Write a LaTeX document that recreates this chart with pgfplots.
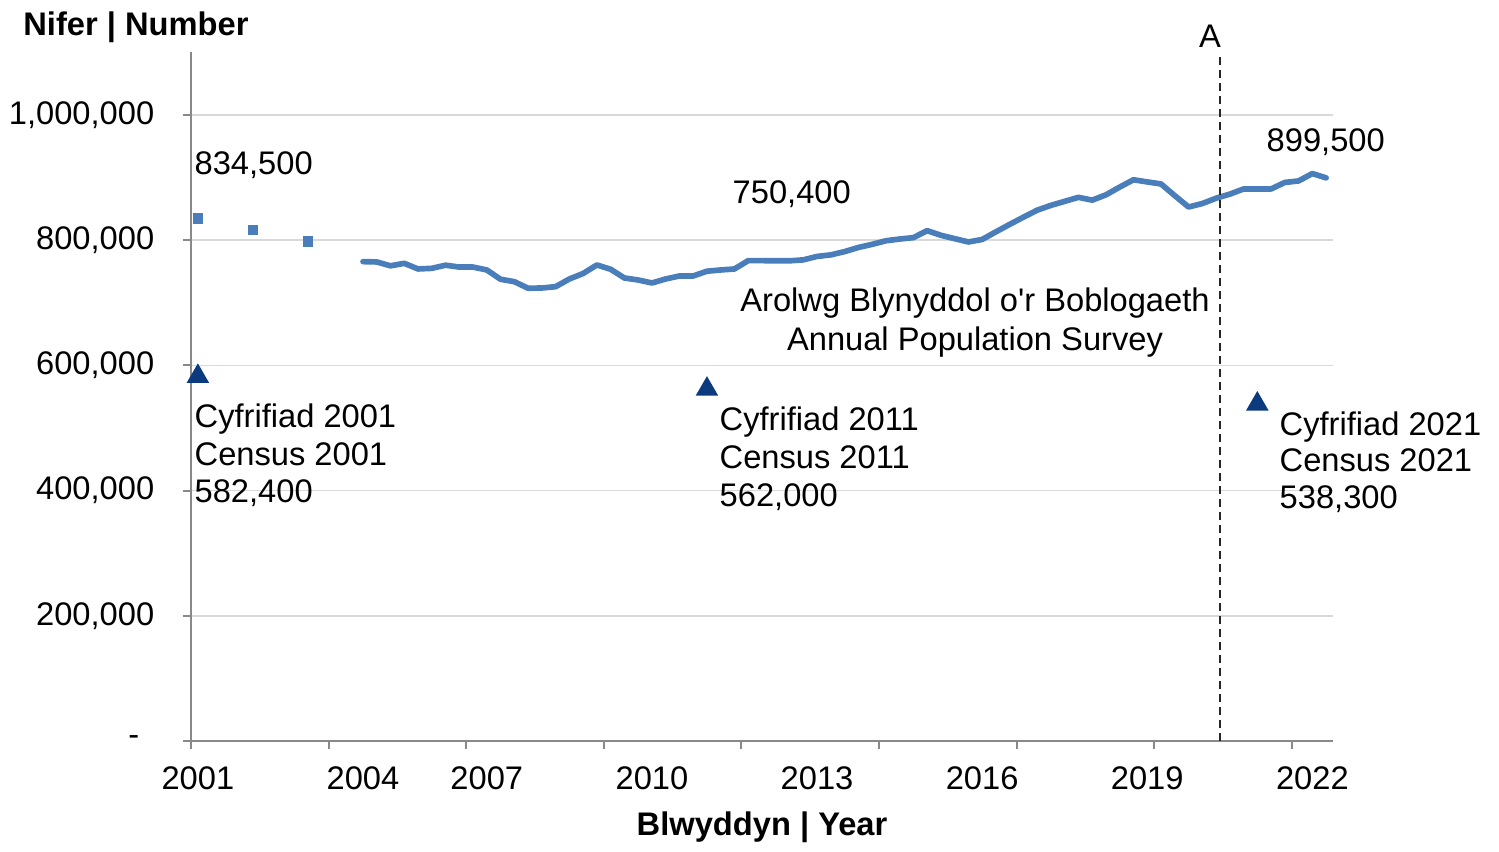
\documentclass[border=0pt]{standalone}
\usepackage{fontspec}
\setmainfont{Liberation Sans}
\usepackage{pgfplots}
\pgfplotsset{compat=1.18}
\definecolor{lineblue}{HTML}{4A7EBB}
\definecolor{navy}{HTML}{0B3A7E}
\definecolor{gridgray}{HTML}{D9D9D9}
\definecolor{axisgray}{HTML}{898989}
\newcommand{\fs}{\fontsize{9.8}{11.4}\selectfont}

\pgfplotstableread{
c pop
12 765700
13 765200
14 759000
15 763000
16 754000
17 755000
18 760000
19 757000
20 757000
21 752400
22 737500
23 733700
24 723200
25 723600
26 725700
27 738000
28 746800
29 760400
30 753500
31 739600
32 736400
33 731600
34 738000
35 742800
36 742800
37 750400
38 752400
39 754000
40 767300
41 767300
42 767000
43 767000
44 768500
45 774000
46 776500
47 781700
48 788300
49 793300
50 799000
51 801800
52 804000
53 815200
54 807800
55 802400
56 797100
57 801100
58 813300
59 825200
60 836700
61 847900
62 855600
63 862000
64 868400
65 863900
66 872400
67 884800
68 896500
69 893000
70 889800
71 871100
72 853000
73 858500
74 867000
75 873500
76 881800
77 881800
78 881800
79 892200
80 894600
81 906400
82 899500
}\aps

\begin{document}
\begin{tikzpicture}
\begin{axis}[
  at={(57.3pt,33pt)}, anchor=south west,
  scale only axis, width=342.6pt, height=206.6pt,
  xmin=-0.5, xmax=82.5, ymin=0, ymax=1100000,
  axis x line*=bottom, axis y line*=left,
  axis line style={axisgray, line width=0.6pt, -},
  tick align=outside,
  major tick length=2.5pt,
  tick style={axisgray, line width=0.6pt},
  xtick={-0.5,9.5,19.5,29.5,39.5,49.5,59.5,69.5,79.5},
  xticklabels={},
  extra x ticks={0,12,21,33,45,57,69,81},
  extra x tick labels={2001,2004,2007,2010,2013,2016,2019,2022},
  extra x tick style={major tick length=0pt, grid=none},
  ytick={0,200000,400000,600000,800000,1000000},
  yticklabels={-\rule{4.5pt}{0pt},{200,000},{400,000},{600,000},{800,000},{1,000,000}},
  ymajorgrids, grid style={gridgray, line width=0.45pt},
  tick label style={font=\fs, text=black},
  yticklabel style={xshift=-5pt},
  xticklabel style={yshift=-4.2pt},
  xlabel={Blwyddyn | Year},
  xlabel style={font=\fs\bfseries, at={(axis description cs:0.5,0)}, anchor=base, yshift=-28.2pt},
  clip=false,
  scaled y ticks=false,
]
\addplot[only marks, mark=square*, mark size=1.35pt, color=lineblue] coordinates {(0,834500) (4,816000) (8,797600)};
\addplot[lineblue, line width=1.7pt, line join=round, line cap=round, mark=none] table[x=c, y=pop] {\aps};
\addplot[only marks, mark=triangle*, mark size=3.5pt, color=navy] coordinates {(0,582400) (37,562000) (77,538300)};
\addplot[black!85, line width=0.6pt, dash pattern=on 2.4pt off 1.5pt, mark=none] coordinates {(74.3,0) (74.3,1100000)};
\end{axis}
\begin{scope}[x=0.3pt, y=-0.3pt, shift={(0,255.3pt)}, every node/.style={inner sep=0pt, font=\fs, text=black}]
\node[anchor=base west, font=\fs\bfseries] at (22.7,35) {Nifer | Number};
\node[anchor=base] at (1210,47.3) {A};
\node[anchor=base west] at (194,174) {834,500};
\node[anchor=base west] at (732,203) {750,400};
\node[anchor=base west] at (1266,151.7) {899,500};
\node[anchor=base] at (975,311) {Arolwg Blynyddol o\textquotesingle r Boblogaeth};
\node[anchor=base] at (975,350) {Annual Population Survey};
\node[anchor=base west] at (194,427) {Cyfrifiad 2001};
\node[anchor=base west] at (194,465) {Census 2001};
\node[anchor=base west] at (194,502) {582,400};
\node[anchor=base west] at (719,430.7) {Cyfrifiad 2011};
\node[anchor=base west] at (719,468.7) {Census 2011};
\node[anchor=base west] at (719,506.7) {562,000};
\node[anchor=base west] at (1279,435) {Cyfrifiad 2021};
\node[anchor=base west] at (1279,471.7) {Census 2021};
\node[anchor=base west] at (1279,508.3) {538,300};
\end{scope}
\pgfresetboundingbox
\path[use as bounding box] (0,0) rectangle (449.7pt,255.3pt);
\end{tikzpicture}
\end{document}
